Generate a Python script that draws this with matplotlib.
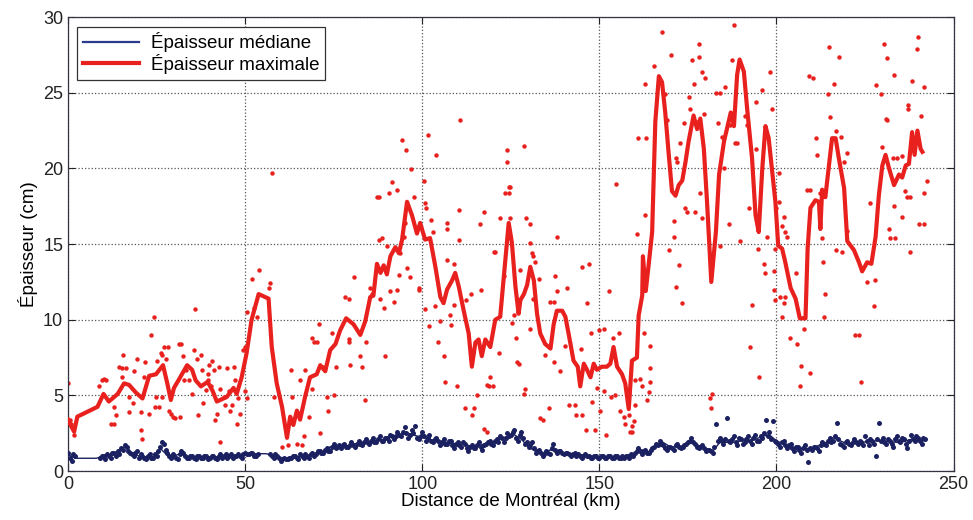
import numpy as np
import matplotlib
matplotlib.use("Agg")
import matplotlib.pyplot as plt

plt.rcParams['font.family'] = ['Liberation Sans', 'DejaVu Sans']

RED = '#e8211f'
NAVY = '#1b2160'

# --- red smoothed curve (max thickness), km / cm
red_line_x = [0, 0.8, 1.7, 2.6, 3.5, 8.3, 10.0, 11.5, 14.0, 15.8, 17.2, 19.1, 21.0, 22.9, 24.8,
              26.8, 28.0, 29.0, 29.9, 31.4, 33.6, 35.0, 36.0, 37.5, 39.4, 40.8, 42.0, 44.8, 46.7,
              47.6, 49.0, 50.4, 51.8, 53.8, 56.6, 57.5, 58.9, 60.4, 61.8, 62.7, 63.6, 64.6, 65.5,
              66.9, 68.3, 70.2, 71.2, 72.6, 74.0, 75.5, 76.8, 78.5, 80.6, 82.5, 83.9, 85.3, 86.2,
              87.2, 88.2, 89.1, 90.0, 91.0, 92.4, 93.4, 94.3, 95.7, 97.1, 98.5, 99.4, 100.8, 102.2,
              103.7, 105.1, 106.0, 107.0, 108.4, 109.3, 110.3, 111.7, 113.1, 114.0, 115.0, 115.9,
              116.8, 117.8, 119.2, 120.6, 122.0, 123.0, 124.4, 125.3, 126.3, 127.2, 127.7, 128.7,
              129.6, 130.5, 131.5, 132.4, 133.3, 134.7, 136.2, 137.1, 138.0, 139.5, 140.4, 141.3,
              142.7, 143.9, 144.6, 145.6, 146.5, 147.5, 148.4, 149.3, 150.7, 152.1, 153.1, 154.0,
              155.0, 156.4, 157.3, 158.3, 159.2, 160.6, 161.1, 162.1, 162.3, 163.1, 163.9, 164.9,
              165.8, 166.8, 167.7, 168.6, 169.6, 170.5, 171.5, 172.4, 173.4, 174.3, 175.2, 176.6,
              177.6, 178.5, 179.5, 180.4, 181.6, 182.9, 183.8, 185.2, 186.2, 187.1, 188.0, 188.9,
              189.6, 190.8, 191.7, 193.1, 194.1, 195.0, 196.0, 196.9, 197.8, 198.8, 199.7, 200.5,
              201.6, 202.5, 204.0, 205.4, 206.6, 208.2, 208.8, 209.6, 211.0, 212.0, 212.4, 212.9,
              213.8, 215.7, 216.7, 217.6, 219.1, 220.0, 221.9, 223.3, 224.2, 225.6, 226.8, 228.0,
              228.9, 229.9, 230.8, 231.8, 233.2, 234.6, 235.5, 236.5, 237.4, 238.3, 239.0, 239.8,
              240.7, 241.2]
red_line_y = [3.4, 3.0, 2.6, 3.6, 3.7, 4.25, 5.1, 4.6, 5.1, 5.8, 5.7, 5.2, 4.8, 6.3, 6.4,
              7.0, 5.8, 4.7, 5.5, 6.1, 7.0, 6.7, 6.0, 5.6, 5.9, 5.3, 4.6, 4.9, 5.5,
              5.1, 6.2, 7.8, 10.0, 11.7, 11.4, 8.2, 5.8, 4.25, 2.2, 3.6, 3.05, 4.0, 3.4,
              4.9, 6.2, 6.4, 7.0, 6.6, 8.0, 8.4, 9.3, 10.1, 9.7, 9.0, 9.9, 11.5, 11.6,
              13.7, 13.1, 13.6, 13.0, 14.2, 14.8, 14.4, 15.3, 17.8, 16.9, 15.7, 16.4, 15.3, 15.4,
              13.5, 11.5, 11.1, 12.0, 12.6, 13.1, 12.2, 10.6, 9.1, 6.9, 8.5, 8.7,
              7.6, 8.7, 8.2, 10.0, 10.2, 12.8, 16.4, 15.1, 12.2, 10.4, 11.3, 11.7,
              12.3, 13.5, 12.6, 10.4, 9.1, 8.4, 8.1, 9.7, 10.6, 10.6, 10.2, 9.1,
              7.3, 6.9, 5.6, 7.1, 6.7, 6.2, 7.1, 6.7, 6.9, 6.9, 7.1, 8.2,
              6.9, 6.4, 5.8, 4.1, 7.3, 7.5, 10.3, 11.6, 14.2, 11.9, 13.6, 15.8,
              23.1, 26.1, 25.7, 23.7, 20.9, 18.5, 18.2, 18.9, 19.2, 20.4, 21.8, 23.5,
              22.6, 23.3, 21.3, 17.8, 12.5, 15.8, 19.6, 21.8, 22.8, 23.7, 22.8, 26.2,
              27.2, 26.4, 24.0, 20.7, 16.9, 15.8, 20.0, 22.8, 22.0, 19.8, 17.8, 14.9,
              14.7, 13.8, 12.1, 11.4, 10.1, 10.1, 14.7, 17.4, 17.9, 17.8, 16.0, 18.6,
              18.1, 22.0, 22.0, 20.7, 18.7, 15.2, 14.6, 13.8, 13.2, 13.8, 13.7, 15.5,
              18.2, 20.2, 20.9, 20.0, 18.9, 19.6, 19.4, 20.2, 20.3, 22.4, 20.9, 22.5,
              21.3, 21.1]

# --- red individual measurements (km, cm)
red_pts = [
    (0, 5.8), (0.6, 3.4), (0.9, 3.1), (1.7, 2.4), (8.8, 5.6), (9.7, 6.0), (10.2, 6.1), (10.6, 6.05),
    (12.1, 3.1), (13, 3.1), (13, 4.25), (13.5, 3.7), (14.4, 6.85), (15.3, 6.8), (16.3, 6.8), (15.6, 7.7),
    (15.1, 6.2), (17.2, 4.9), (17.2, 3.9), (18.2, 4.5), (18.6, 6.6), (19.4, 7.4), (20.7, 2.7), (21, 2.1),
    (20.5, 3.9), (21.5, 6.2), (21.8, 7.2), (22.9, 3.8), (23.5, 9.0), (24.3, 10.2), (24.5, 4.25), (24.8, 4.9),
    (25.2, 7.3), (26.2, 7.8), (26.6, 7.7), (27.1, 8.2), (27.6, 7.4), (28.1, 8.2), (25.7, 4.25), (26.6, 4.9),
    (28.5, 4.0), (29, 3.8), (29.5, 3.6), (30.2, 3.5), (31.4, 8.4), (32, 8.4), (32.3, 7.6), (31.6, 3.6),
    (32.8, 6.0), (33.2, 6.7), (34.2, 6.0), (35.1, 5.1), (35.8, 10.7), (35.6, 8.0), (36.5, 7.4), (36.8, 3.7),
    (37.5, 7.7), (37.7, 6.7), (38.2, 4.5), (38.9, 5.35), (39.4, 6.45), (39.8, 7.0), (40.3, 5.6),
    (39.6, 6.0), (40.6, 7.3), (41.1, 6.7), (42.5, 6.9), (42, 3.8), (41.5, 3.4), (42.9, 1.9), (42.9, 5.45),
    (43.9, 4.9), (44.3, 4.35), (44.8, 6.8), (45.3, 5.3), (45.8, 4.0), (46.2, 4.35), (46.7, 6.9), (47.2, 6.0),
    (47.6, 3.1), (48.1, 4.8), (48.6, 3.8), (49.5, 8.0), (50, 8.2), (50, 5.3), (50.5, 4.8), (50.5, 10.5),
    (51.9, 12.7), (52.6, 10.8), (53.3, 10.2), (53.8, 13.3), (57.5, 19.7), (56.6, 12.1), (57.1, 12.4), (58, 4.9),
    (60.4, 1.6), (62.1, 1.7), (63, 6.7), (63.2, 4.9), (64.6, 1.8), (65.5, 6.0), (66, 1.7), (67, 6.7),
    (66.7, 2.3), (67.9, 3.6), (68.8, 5.45), (68.8, 8.8), (69.3, 8.5), (70.2, 8.5), (70.9, 9.75), (71.2, 2.5),
    (72.1, 6.9), (73.1, 4.9), (73.5, 4.0), (74.5, 9.1), (75, 5.0), (75.7, 6.9), (78.2, 11.5), (79.2, 11.4),
    (79.4, 8.5), (80.8, 12.8), (79.5, 7.0),
    (79.2, 8.7), (82.5, 7.6), (83, 6.9), (83.9, 4.7), (84.1, 8.55), (85.8, 11.7), (85.3, 12.1), (87.2, 18.1),
    (87.7, 18.1), (87.7, 15.3), (88.6, 15.4), (88.1, 11.4), (89.5, 7.6), (89.1, 10.8), (90, 14.9), (90.5, 18.4),
    (91.4, 19.1), (91, 11.9), (91.9, 11.2), (92.8, 18.6), (92.8, 12.0), (93.3, 12.95), (93.8, 14.4), (94.4, 21.9),
    (94.7, 15.5), (95.4, 21.2), (95.2, 16.4), (95.7, 13.4), (96.6, 12.8), (96.9, 19.96), (97.6, 18.1), (99, 12.0),
    (99.2, 12.1), (100.4, 19.2), (100.8, 10.7), (101, 17.4), (100.8, 17.7), (101.6, 22.2), (102, 9.6), (102.5, 16.6),
    (102.9, 15.8), (103.9, 20.9), (103.7, 10.9), (104.4, 8.55), (105.1, 9.9), (106, 7.6), (106.5, 5.9), (107, 16.4),
    (107, 16.0), (107, 13.95), (107.9, 10.3), (108.2, 9.65), (108.9, 13.7), (108.9, 11.0), (109.8, 5.6), (110.3, 15.3),
    (110.5, 17.25), (110.7, 23.2), (112, 4.15), (112.3, 11.3), (113.8, 11.7), (114, 3.7), (114.5, 4.15), (115.4, 5.0),
    (116.4, 16.3), (116.7, 12.0), (117.3, 2.8), (117.3, 17.1), (118.3, 5.7), (118.3, 2.6), (118.7, 5.6), (119.2, 6.2),
    (120.2, 14.5), (120.6, 14.5), (120.1, 5.6), (121.6, 7.8), (122, 16.7), (123, 12.9), (123.9, 21.2), (123.9, 20.4),
    (123.4, 18.4), (124.4, 18.4), (124.4, 18.8), (124.8, 18.8), (124.8, 16.7), (125.3, 9.8), (125.8, 10.3), (126.5, 8.8),
    (127.2, 7.1), (127.7, 13.3), (126.7, 7.2), (128.6, 21.5), (128.6, 5.1), (129.1, 5.4), (129.4, 16.7), (130.3, 16.3),
    (130.5, 15.05), (131, 14.4), (130.5, 9.4), (131.4, 14.2), (131.9, 13.8), (131.4, 11.4), (132.9, 12.7), (133.3, 3.5),
    (134.1, 3.4), (134.7, 7.7), (135.7, 4.15), (136.2, 11.2), (137.1, 11.2), (137.1, 7.2), (137.6, 12.9), (138, 15.5),
    (138, 11.9), (139, 6.6), (140.4, 8.3), (140.9, 12.1), (141.5, 4.4), (143.2, 4.4), (143.5, 3.7), (145.1, 3.7),
    (144.8, 8.1), (145.1, 13.5), (146.1, 2.7), (146.5, 11.1), (147, 13.7), (147.5, 9.1), (147.9, 4.6), (148.9, 2.7),
    (149.3, 5.5), (149.8, 9.3), (150.3, 4.0), (151.2, 9.4), (151.2, 5.3), (152, 2.4), (152.6, 11.9), (153.3, 4.9),
    (153.9, 8.8), (154.5, 5.0), (154.8, 19.0), (155.5, 9.1), (155.9, 4.0), (156.9, 3.6), (157.3, 3.1), (158.3, 3.7),
    (158.7, 2.6), (159.2, 3.0), (160.2, 4.4), (160.6, 15.7), (160.8, 22.0),
    (159.7, 3.3), (159.2, 2.6), (160.2, 6.0), (161.6, 6.1), (162.1, 5.6), (162.5, 9.1), (163, 16.9), (163, 25.6),
    (163.3, 22.0), (163.5, 4.7), (163.9, 5.25), (164.4, 5.9), (164.4, 8.3), (164.4, 6.8), (165.3, 26.8), (167.7, 29.0),
    (168.6, 24.9), (169.1, 23.2), (169.6, 14.6), (170.1, 27.5), (171, 15.5), (171, 16.5), (171.5, 20.7), (171.5, 12.2),
    (171.9, 20.45), (172.4, 13.6), (172.9, 21.7), (173.4, 11.1), (174, 23.0), (174.3, 17.4), (174.8, 17.1), (175.2, 24.7),
    (175.7, 23.9), (176.2, 27.2), (176.6, 25.6), (177.1, 17.1), (177.6, 23.1), (178.1, 27.4), (178.1, 28.2), (178.5, 18.4),
    (179, 16.7), (179, 26.4), (179.5, 23.6), (179.9, 25.95), (181.4, 4.2), (181.8, 5.1), (181.2, 4.8), (182.8, 25.0),
    (183.4, 23.0), (184, 25.0), (184.2, 14.9), (184.6, 22.1), (185.3, 20.0), (185.6, 25.4), (186.5, 16.3), (187, 22.9),
    (187.5, 27.2), (187.9, 29.5), (188.4, 21.7), (188.9, 21.7), (189.6, 15.2), (191.2, 23.5), (191.7, 22.9), (192.2, 17.4),
    (192.6, 8.2), (193.1, 11.0), (194.1, 24.4), (194.3, 21.3), (194.7, 14.7), (195, 6.2), (195.9, 25.2), (196.4, 13.7),
    (196.9, 13.1), (197.4, 15.5), (198.1, 26.4), (198.8, 23.9), (199.2, 12.0), (199.7, 11.3), (199.9, 17.4),
    (200.7, 19.7), (200.7, 17.8), (202.1, 16.8), (201.6, 16.2), (202.5, 15.8), (199.7, 14.7), (203, 15.5), (199.2, 13.2),
    (201.1, 11.5), (202.5, 11.5), (202.1, 11.1), (201.6, 10.2), (203.9, 8.8), (205.4, 13.1), (205.8, 8.4), (207, 6.97),
    (206.6, 5.6), (207.9, 9.4), (209.6, 6.5), (208.7, 18.6), (209.6, 18.6), (209.1, 26.1), (210.3, 26.0), (211.5, 20.9),
    (211.3, 22.0), (212.4, 18.4), (212.9, 15.4), (213.2, 13.8), (213.6, 11.7), (213.4, 10.2), (214.5, 24.9), (214.8, 28.0),
    (215.1, 23.4), (216.2, 25.6), (216.7, 22.5), (216.9, 14.6), (217.6, 27.4), (218.1, 22.1), (218.5, 14.5), (219, 20.4),
    (220, 21.0), (220, 15.9), (222.3, 9.0), (223.3, 9.0), (223.9, 5.9), (225.6, 12.5), (226.5, 17.7), (227.5, 10.9),
    (227.7, 12.6), (228.2, 25.5), (229.6, 24.9), (229.9, 21.4), (230.3, 28.2), (230.8, 23.3), (231.1, 23.2), (231.3, 27.3),
    (231.7, 16.0), (232.2, 15.4), (232.9, 20.7), (233.1, 17.5), (233.6, 15.4), (233.9, 20.7), (233.3, 26.2), (235.5, 20.8),
    (235.5, 16.8), (236.4, 18.5), (236.9, 18.1), (237.1, 24.2), (237.2, 23.9), (237.8, 18.1), (237.8, 14.5), (238.3, 25.8),
    (239.7, 27.9), (239.9, 28.7), (240.7, 23.5), (241.6, 25.4), (241.6, 18.4), (241.8, 16.3), (242.4, 19.2), (240.2, 16.3),
]
red_pts_x = [p[0] for p in red_pts]
red_pts_y = [p[1] for p in red_pts]

# --- navy median curve, every 2 km
navy_line_x = list(range(0, 243, 2))
navy_line_y = [1.1, 0.85, 0.85, 0.85, 0.85, 1.0, 1.05, 1.3, 1.6, 1.2, 1.0, 0.95, 0.95, 1.5, 1.05,
               1.0, 1.2, 0.95, 0.95, 0.9, 0.95, 0.95, 1.0, 1.0, 1.05, 1.15, 1.15, 1.15, 1.15, 1.0,
               0.85, 0.85, 0.9, 1.0, 1.05, 1.2, 1.3, 1.6, 1.7, 1.65, 1.75, 1.85, 1.9, 2.0, 2.05,
               2.15, 2.3, 2.45, 2.5, 2.35, 2.25, 2.1, 2.0, 1.95, 1.85, 1.8, 1.75, 1.65, 1.7, 1.8,
               1.9, 2.1, 2.3, 2.4, 2.1, 1.6, 1.3, 1.1, 1.4, 1.3, 1.2, 1.15, 1.1, 1.05, 1.0,
               0.95, 0.95, 0.95, 0.95, 1.0, 1.1, 1.4, 1.3, 1.6, 1.9, 1.6, 1.6, 1.7, 2.0, 1.7,
               1.5, 1.3, 1.9, 1.9, 1.9, 2.0, 2.0, 2.1, 2.3, 2.4, 2.0, 1.8, 1.6, 1.5, 1.5,
               1.5, 1.7, 1.9, 2.2, 2.0, 1.8, 1.85, 1.9, 1.95, 2.0, 2.0, 1.95, 1.9, 1.95, 2.1,
               2.0, 2.0]

# --- navy individual measurements at whole km (nan = no data)
nan = np.nan
navy_pts_x = list(range(0, 243))
navy_pts_y = [1.2, 0.7, 1.0, nan, nan, nan, nan, nan, nan,
              0.9, 1.0, 1.1, 0.9, 1.2, 1.3, 1.5, 1.7, 1.3, 1.1, 1.2,
              0.9, 1.0, 0.8, 1.1, 0.9, 1.0, 1.6, 1.8, 1.2, 0.9,
              1.0, 0.8, 1.3, 1.0, 0.9, 1.0, 0.8, 1.0, 0.9, 1.0,
              0.9, 1.0, 0.8, 1.1, 1.0, 0.9, 1.1, 1.0, 1.1, 0.9,
              1.2, 1.1, 1.2, 1.0, nan, nan, nan, 1.1, 0.9, 1.0,
              0.7, 0.9, 0.8, 0.9, 1.0, 0.8, 1.0, 1.1, 0.9, 1.2,
              1.1, 1.3, 1.2, 1.5, 1.3, 1.8, 1.6, 1.5, 1.8, 1.6,
              1.9, 1.6, 2.0, 1.7, 2.1, 1.8, 2.2, 1.9, 2.3, 2.0,
              2.2, 2.4, 2.1, 2.6, 2.3, 2.9, 2.2, 2.7, 3.0, 2.1,
              2.6, 2.0, 2.4, 1.9, 2.2, 1.7, 2.1, 1.8, 2.0, 1.5,
              1.9, 1.6, 1.8, 1.3, 1.7, 1.5, 1.9, 1.4, 1.8, 2.0,
              1.7, 2.1, 2.3, 1.9, 2.5, 2.4, 2.7, 2.0, 2.6, 1.8,
              1.6, 1.9, 1.2, 1.4, 1.0, 1.3, 1.1, 1.8, 1.2, 1.3,
              1.1, 1.2, 1.0, 1.2, 1.1, 0.9, 1.1, 1.0, 0.9, 1.0,
              0.9, 1.0, 0.9, 1.0, 0.9, 1.0, 0.9, 0.9, 1.0, 1.1,
              1.2, 1.5, 1.1, 1.4, 1.2, 1.5, 1.8, 2.0, 1.7, 1.4,
              1.6, 1.4, 1.8, 1.5, 1.7, 1.9, 2.2, 1.8, 1.5, 1.7,
              1.3, 1.4, 1.2, 3.1, 2.2, 1.8, 3.5, 1.9, 2.3, 1.7,
              2.1, 1.9, 2.3, 1.8, 2.4, 2.0, 2.2, 3.4, 2.6, 3.3,
              1.9, 1.6, 2.0, 1.5, 1.8, 1.3, 1.6, 1.2, 1.7, 0.6,
              1.4, 1.6, 1.3, 1.9, 1.7, 2.2, 2.0, 3.2, 1.8, 1.6,
              2.0, 1.7, 2.1, 1.8, 1.9, 2.3, 1.7, 2.0, 1.0, 3.2,
              2.2, 1.8, 2.0, 1.6, 2.3, 1.9, 2.1, 1.5, 2.4, 2.0,
              2.2, 1.8, 2.1]

# --- navy individual measurements at half km
navy_pts2_x = [k + 0.5 for k in range(242)]
navy_pts2_y = [0.9, 1.1, nan, nan, nan, nan, nan, nan, nan, 1.0,
               0.8, 1.0, 1.2, 1.0, 1.1, 1.4, 1.6, 1.2, 1.0, 1.3,
               1.1, 0.9, 1.0, 0.9, 1.1, 1.3, 1.9, 1.4, 1.0, 1.1,
               0.9, 1.1, 1.2, 0.9, 1.0, 0.9, 1.0, 0.9, 1.0, 0.8,
               1.0, 0.9, 1.0, 0.9, 1.1, 1.0, 0.9, 1.0, 1.0, 1.1,
               1.1, 1.2, 1.0, 1.1, nan, nan, nan, 1.0, 1.1, 0.9,
               0.8, 0.8, 0.9, 1.0, 0.9, 1.1, 0.9, 1.0, 1.1, 1.0,
               1.3, 1.2, 1.4, 1.3, 1.6, 1.5, 1.7, 1.7, 1.6, 1.7,
               1.7, 1.8, 1.8, 1.9, 1.9, 2.0, 1.9, 2.1, 2.0, 2.2,
               2.0, 2.3, 2.3, 2.4, 2.6, 2.5, 2.4, 2.5, 2.2, 2.3,
               2.3, 2.2, 2.0, 2.1, 2.0, 1.9, 1.8, 2.0, 1.7, 1.8,
               1.7, 1.9, 1.5, 1.6, 1.5, 1.7, 1.6, 1.7, 1.9, 1.8,
               2.0, 1.9, 2.2, 2.2, 2.3, 2.6, 2.2, 2.4, 2.2, 1.9,
               1.7, 1.5, 1.3, 1.2, 1.1, 1.2, 1.5, 1.4, 1.3, 1.2,
               1.2, 1.1, 1.1, 1.0, 1.0, 1.0, 1.0, 0.9, 1.0, 0.9,
               1.0, 0.9, 1.0, 0.9, 1.0, 0.9, 1.0, 1.0, 0.9, 1.0,
               1.3, 1.3, 1.3, 1.2, 1.4, 1.6, 1.7, 1.8, 1.5, 1.6,
               1.5, 1.7, 1.6, 1.6, 1.8, 2.0, 1.9, 1.6, 1.6, 1.5,
               1.4, 1.3, 1.6, 2.0, 2.0, 2.1, 2.0, 2.1, 1.9, 2.2,
               1.8, 2.1, 2.0, 2.2, 2.0, 2.3, 2.5, 2.3, 2.1, 2.0,
               1.8, 1.9, 1.7, 1.7, 1.5, 1.6, 1.4, 1.5, 1.4, 1.5,
               1.6, 1.5, 1.7, 1.8, 2.0, 1.9, 2.3, 2.1, 1.7, 1.9,
               1.8, 1.9, 1.9, 2.0, 1.7, 2.0, 2.1, 1.8, 2.1, 2.0,
               1.9, 2.1, 1.8, 2.1, 2.0, 2.2, 1.8, 2.0, 2.1, 2.3,
               2.0, 2.2]

fig = plt.figure(figsize=(9.73, 5.20), dpi=100)
ax = fig.add_axes([0.07, 0.094, 0.91, 0.873])

ax.plot(red_pts_x, red_pts_y, 'o', color=RED, ms=3.2, mew=0, zorder=2)
ax.plot(red_line_x, red_line_y, '-', color=RED, lw=3.0, zorder=3, label='Épaisseur maximale')
ax.plot(navy_line_x, navy_line_y, '-', color=NAVY, lw=1.0, zorder=3, label='Épaisseur médiane')
ax.plot(navy_pts_x, navy_pts_y, 'o', color=NAVY, ms=3.6, mew=0, zorder=4)
ax.plot(navy_pts2_x, navy_pts2_y, 'o', color=NAVY, ms=3.6, mew=0, zorder=4)

ax.set_xlim(0, 250)
ax.set_ylim(0, 30)
ax.set_xticks([0, 50, 100, 150, 200, 250])
ax.set_yticks([0, 5, 10, 15, 20, 25, 30])
ax.grid(True, linestyle=':', color='#555555', linewidth=0.9)
ax.tick_params(direction='in', top=True, right=True, length=5, labelsize=13, colors='#222222')
for s in ax.spines.values():
    s.set_color('#333344')
    s.set_linewidth(0.9)

ax.set_xlabel('Distance de Montréal (km)', fontsize=13.5, labelpad=0)
ax.set_ylabel('Épaisseur (cm)', fontsize=13.5, labelpad=4)

h, l = ax.get_legend_handles_labels()
leg = ax.legend([h[1], h[0]], [l[1], l[0]], loc='upper left', fontsize=13.5,
                fancybox=False, framealpha=1, edgecolor='#333333', borderpad=0.3,
                handlelength=3.0, handletextpad=0.6, labelspacing=0.1, borderaxespad=0.5)
leg.get_frame().set_linewidth(0.9)
leg.get_lines()[0].set_linewidth(1.6)
leg.get_lines()[0].set_color('#2b3a8c')
leg.get_lines()[1].set_linewidth(3.0)

fig.savefig('out.png', dpi=100)
